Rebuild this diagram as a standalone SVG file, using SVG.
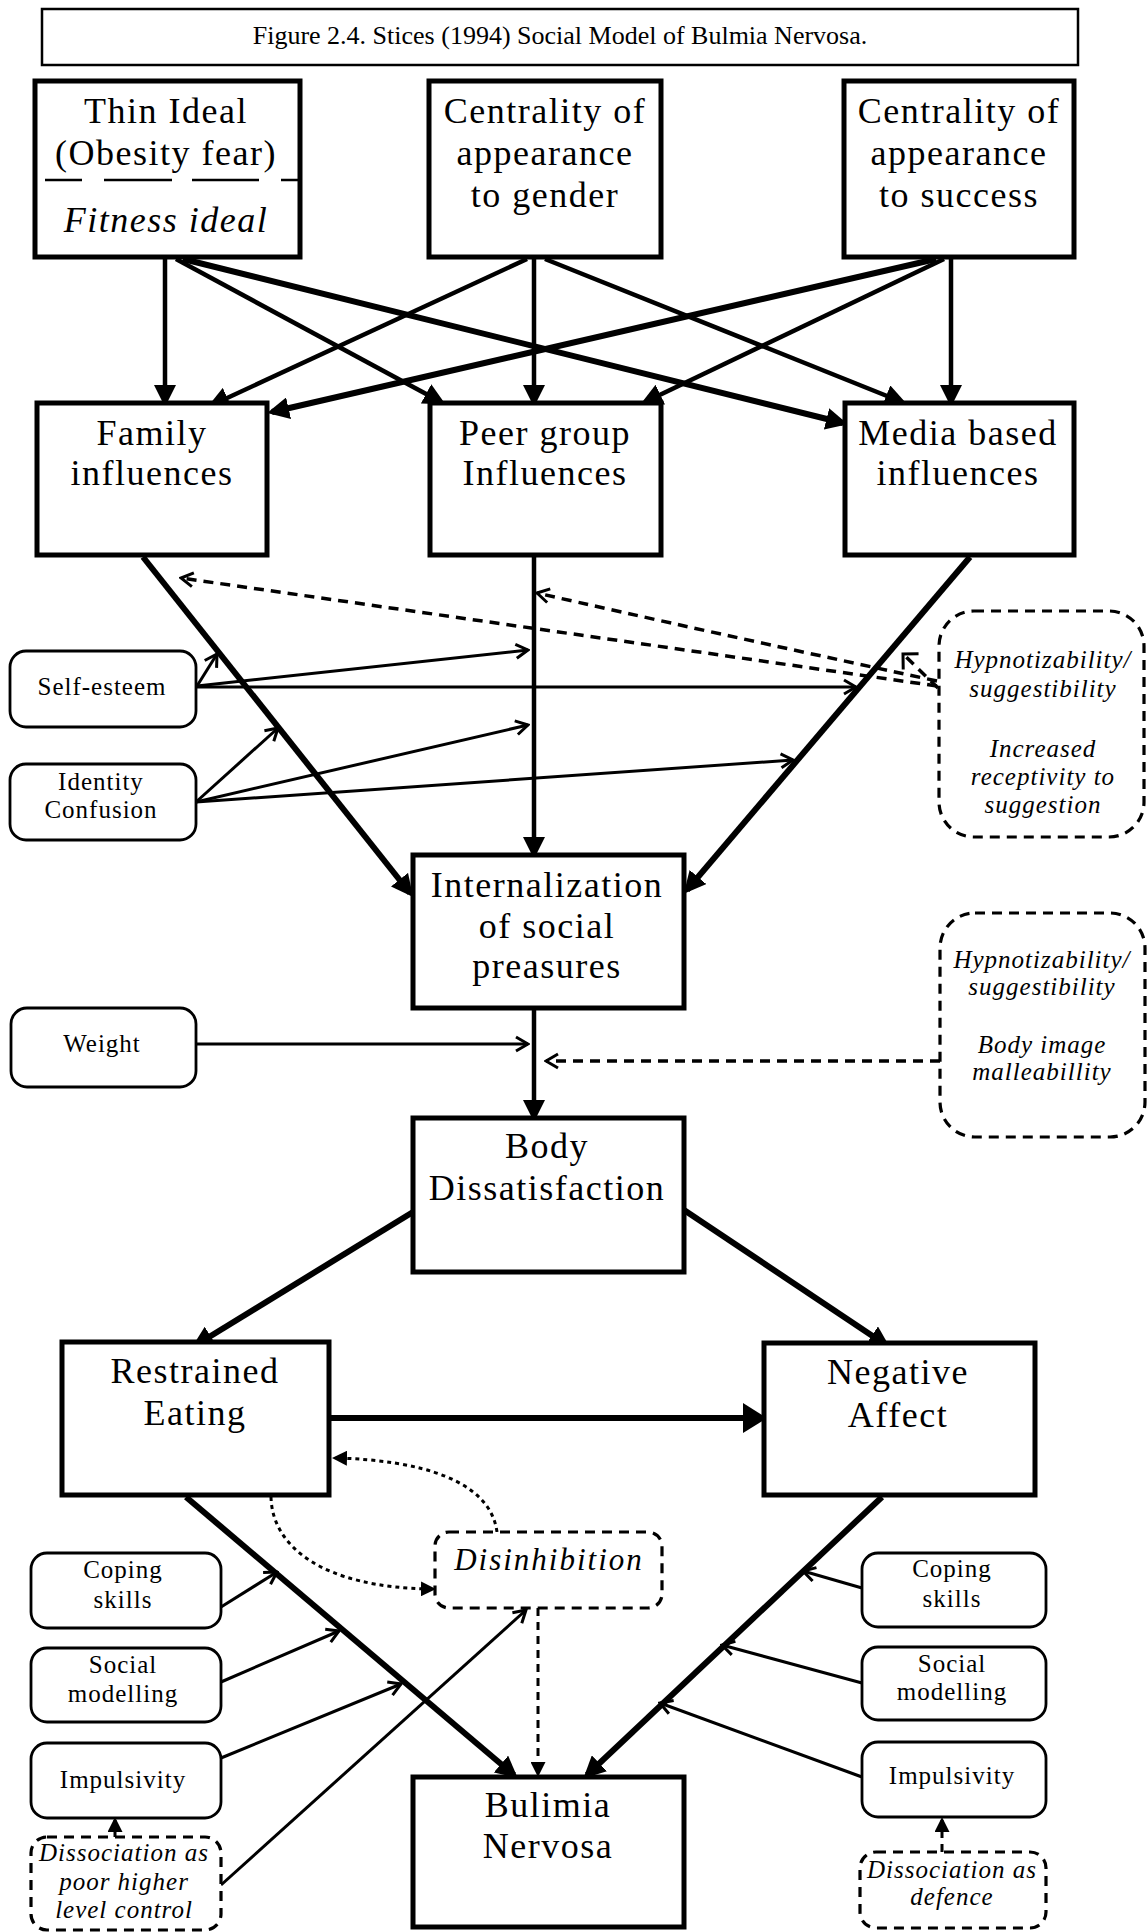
<svg xmlns="http://www.w3.org/2000/svg" width="1147" height="1932" viewBox="0 0 1147 1932">
<defs>
<style>
.bg{fill:#fff}
.box{fill:#fff;stroke:#000;stroke-width:5}
.tbox{fill:#fff;stroke:#000;stroke-width:2.5}
.sbox{fill:#fff;stroke:#000;stroke-width:2.8}
.dbox{fill:#fff;stroke:#000;stroke-width:3.2;stroke-dasharray:10 7}
.t{font-family:"Liberation Serif","Times New Roman",serif;fill:#000;text-anchor:middle}
.big{font-size:36px;letter-spacing:1.5px}
.sm{font-size:25px;letter-spacing:1px}
.it{font-style:italic}
.title{font-size:26px}
.c{fill:none;stroke:#000;stroke-width:4.5}
.c5{fill:none;stroke:#000;stroke-width:6}
.m{fill:none;stroke:#000;stroke-width:3}
.d{fill:none;stroke:#000;stroke-width:3.5;stroke-dasharray:10 7}
.dot{fill:none;stroke:#000;stroke-width:3;stroke-dasharray:4 4}
</style>
<marker id="arr" viewBox="0 0 22 22" refX="17" refY="11" markerWidth="22" markerHeight="22" markerUnits="userSpaceOnUse" orient="auto"><path d="M0,0 L22,11 L0,22 Z" fill="#000"/></marker>
<marker id="arrL" viewBox="0 0 24 30" refX="20" refY="15" markerWidth="24" markerHeight="30" markerUnits="userSpaceOnUse" orient="auto"><path d="M0,0 L24,15 L0,30 Z" fill="#000"/></marker>
<marker id="arrS" viewBox="0 0 15 15" refX="12" refY="7.5" markerWidth="15" markerHeight="15" markerUnits="userSpaceOnUse" orient="auto"><path d="M0,0 L15,7.5 L0,15 Z" fill="#000"/></marker>
<marker id="open" viewBox="-2 -2 16 18" refX="12" refY="7" markerWidth="16" markerHeight="18" markerUnits="userSpaceOnUse" orient="auto"><path d="M0,0 L12,7 L0,14" fill="none" stroke="#000" stroke-width="3"/></marker>
<marker id="corner" viewBox="-2 -2 16 26" refX="11" refY="11" markerWidth="16" markerHeight="26" markerUnits="userSpaceOnUse" orient="auto"><path d="M0,0 L11,11 L0,22" fill="none" stroke="#000" stroke-width="3"/></marker>
</defs>
<rect class="bg" x="0" y="0" width="1147" height="1932"/>

<g id="connectors">
<!-- top layer -->
<path class="c" d="M165,259 L165,402" marker-end="url(#arr)"/>
<path class="c" d="M176,259 L441,402" marker-end="url(#arr)"/>
<path class="c5" d="M183,259 L843,423" marker-end="url(#arr)"/>
<path class="c" d="M527,259 L212,405" marker-end="url(#arr)"/>
<path class="c" d="M534,259 L534,402" marker-end="url(#arr)"/>
<path class="c" d="M545,259 L902,402" marker-end="url(#arr)"/>
<path class="c5" d="M936,259 L272,412" marker-end="url(#arr)"/>
<path class="c" d="M944,259 L645,402" marker-end="url(#arr)"/>
<path class="c" d="M951,259 L951,402" marker-end="url(#arr)"/>
<!-- to internalization -->
<path class="c5" d="M143,557 L410,893" marker-end="url(#arr)"/>
<path class="c" d="M534,557 L534,854" marker-end="url(#arr)"/>
<path class="c5" d="M970,557 L687,890" marker-end="url(#arr)"/>
<path class="c" d="M534,1010 L534,1117" marker-end="url(#arr)"/>
<!-- moderators -->
<path class="m" d="M197,686 L217,654" marker-end="url(#open)"/>
<path class="m" d="M197,686 L528,650" marker-end="url(#open)"/>
<path class="m" d="M197,687 L856,687" marker-end="url(#open)"/>
<path class="m" d="M196,802 L278,728" marker-end="url(#open)"/>
<path class="m" d="M196,802 L528,725" marker-end="url(#open)"/>
<path class="m" d="M196,802 L793,760" marker-end="url(#open)"/>
<path class="m" d="M196,1044 L528,1044" marker-end="url(#open)"/>
<path class="d" d="M937,686 L181,578" marker-end="url(#open)"/>
<path class="d" d="M937,681 Q700,630 537,593" marker-end="url(#open)"/>
<path class="d" d="M938,688 L903,654" marker-end="url(#corner)"/>
<path class="d" d="M940,1061 L546,1061" marker-end="url(#open)"/>
<!-- lower -->
<path class="c5" d="M413,1212 L196,1345" marker-end="url(#arr)"/>
<path class="c5" d="M684,1210 L886,1345" marker-end="url(#arr)"/>
<path class="c5" d="M329,1418 L763,1418" marker-end="url(#arrL)"/>
<path class="c5" d="M186,1497 L514,1775" marker-end="url(#arr)"/>
<path class="c5" d="M882,1497 L587,1775" marker-end="url(#arr)"/>
<path class="dot" d="M497,1532 C490,1480 420,1460 335,1458" marker-end="url(#arrS)"/>
<path class="dot" d="M271,1497 C272,1545 320,1588 433,1589" marker-end="url(#arrS)"/>
<path class="m" style="stroke-dasharray:8 6" d="M538,1608 L538,1774" marker-end="url(#arrS)"/>
<path class="m" d="M221,1607 L277,1572" marker-end="url(#open)"/>
<path class="m" d="M221,1682 L339,1631" marker-end="url(#open)"/>
<path class="m" d="M221,1758 L401,1684" marker-end="url(#open)"/>
<path class="m" d="M221,1885 L526,1610" marker-end="url(#open)"/>
<path class="m" d="M115,1837 L115,1820" marker-end="url(#arrS)"/>
<path class="m" d="M862,1588 L803,1571" marker-end="url(#open)"/>
<path class="m" d="M862,1683 L722,1645" marker-end="url(#open)"/>
<path class="m" d="M862,1777 L660,1703" marker-end="url(#open)"/>
<path class="m" style="stroke-dasharray:8 6" d="M942,1852 L942,1820" marker-end="url(#arrS)"/>
</g>

<g id="title"><rect class="tbox" x="42" y="9" width="1036" height="56"/><text class="t title" x="560" y="44">Figure 2.4. Stices (1994) Social Model of  Bulmia Nervosa.</text></g>

<g id="thin-ideal"><rect class="box" x="35" y="81" width="265" height="176"/>
<text class="t big" x="166" y="123">Thin Ideal</text>
<text class="t big" x="166" y="165">(Obesity fear)</text>
<path d="M45,180 H82 M104,180 H172 M192,180 H259 M281,180 H298" stroke="#000" stroke-width="2.5" fill="none"/>
<text class="t big it" x="166" y="232">Fitness ideal</text></g>

<g id="centrality-gender"><rect class="box" x="429" y="81" width="232" height="176"/>
<text class="t big" x="545" y="123">Centrality of</text>
<text class="t big" x="545" y="165">appearance</text>
<text class="t big" x="545" y="207">to gender</text></g>

<g id="centrality-success"><rect class="box" x="844" y="81" width="230" height="176"/>
<text class="t big" x="959" y="123">Centrality of</text>
<text class="t big" x="959" y="165">appearance</text>
<text class="t big" x="959" y="207">to success</text></g>

<g id="family"><rect class="box" x="37" y="403" width="230" height="152"/>
<text class="t big" x="152" y="445">Family</text>
<text class="t big" x="152" y="485">influences</text></g>

<g id="peer"><rect class="box" x="430" y="403" width="231" height="152"/>
<text class="t big" x="545" y="445">Peer group</text>
<text class="t big" x="545" y="485">Influences</text></g>

<g id="media"><rect class="box" x="845" y="403" width="229" height="152"/>
<text class="t big" x="958" y="445">Media based</text>
<text class="t big" x="958" y="485">influences</text></g>

<g id="self-esteem"><rect class="sbox" x="10" y="651" width="186" height="76" rx="16"/>
<text class="t sm" x="102" y="695">Self-esteem</text></g>

<g id="identity"><rect class="sbox" x="10" y="764" width="186" height="76" rx="16"/>
<text class="t sm" x="101" y="790">Identity</text>
<text class="t sm" x="101" y="818">Confusion</text></g>

<g id="hypno1"><rect class="dbox" x="939" y="611" width="205" height="226" rx="35"/>
<text class="t sm it" x="1043" y="668">Hypnotizability/</text>
<text class="t sm it" x="1043" y="697">suggestibility</text>
<text class="t sm it" x="1043" y="757">Increased</text>
<text class="t sm it" x="1043" y="785">receptivity to</text>
<text class="t sm it" x="1043" y="813">suggestion</text></g>

<g id="internalization"><rect class="box" x="413" y="855" width="271" height="153"/>
<text class="t big" x="547" y="897">Internalization</text>
<text class="t big" x="547" y="938">of social</text>
<text class="t big" x="547" y="978">preasures</text></g>

<g id="weight"><rect class="sbox" x="11" y="1008" width="185" height="79" rx="16"/>
<text class="t sm" x="102" y="1052">Weight</text></g>

<g id="hypno2"><rect class="dbox" x="940" y="913" width="205" height="224" rx="35"/>
<text class="t sm it" x="1042" y="968">Hypnotizability/</text>
<text class="t sm it" x="1042" y="995">suggestibility</text>
<text class="t sm it" x="1042" y="1053">Body image</text>
<text class="t sm it" x="1042" y="1080">malleabillity</text></g>

<g id="body"><rect class="box" x="413" y="1118" width="271" height="154"/>
<text class="t big" x="547" y="1158">Body</text>
<text class="t big" x="547" y="1200">Dissatisfaction</text></g>

<g id="restrained"><rect class="box" x="62" y="1342" width="267" height="153"/>
<text class="t big" x="195" y="1383">Restrained</text>
<text class="t big" x="195" y="1425">Eating</text></g>

<g id="negative"><rect class="box" x="764" y="1343" width="271" height="152"/>
<text class="t big" x="898" y="1384">Negative</text>
<text class="t big" x="898" y="1427">Affect</text></g>

<g id="disinhibition"><rect class="dbox" x="435" y="1532" width="227" height="76" rx="14"/>
<text class="t it" style="font-size:31px;letter-spacing:2px" x="549" y="1570">Disinhibition</text></g>

<g id="bulimia"><rect class="box" x="413" y="1777" width="271" height="150"/>
<text class="t big" x="548" y="1817">Bulimia</text>
<text class="t big" x="548" y="1858">Nervosa</text></g>

<g id="coping-l"><rect class="sbox" x="31" y="1553" width="190" height="75" rx="16"/>
<text class="t sm" x="123" y="1578">Coping</text>
<text class="t sm" x="123" y="1608">skills</text></g>
<g id="social-l"><rect class="sbox" x="31" y="1648" width="190" height="74" rx="16"/>
<text class="t sm" x="123" y="1673">Social</text>
<text class="t sm" x="123" y="1702">modelling</text></g>
<g id="impulsivity-l"><rect class="sbox" x="31" y="1743" width="190" height="75" rx="16"/>
<text class="t sm" x="123" y="1788">Impulsivity</text></g>
<g id="dissoc-l"><rect class="dbox" x="31" y="1837" width="190" height="93" rx="16"/>
<text class="t sm it" x="124" y="1861">Dissociation as</text>
<text class="t sm it" x="124" y="1890">poor higher</text>
<text class="t sm it" x="124" y="1918">level control</text></g>

<g id="coping-r"><rect class="sbox" x="862" y="1553" width="184" height="74" rx="16"/>
<text class="t sm" x="952" y="1577">Coping</text>
<text class="t sm" x="952" y="1607">skills</text></g>
<g id="social-r"><rect class="sbox" x="862" y="1647" width="184" height="73" rx="16"/>
<text class="t sm" x="952" y="1672">Social</text>
<text class="t sm" x="952" y="1700">modelling</text></g>
<g id="impulsivity-r"><rect class="sbox" x="862" y="1742" width="184" height="75" rx="16"/>
<text class="t sm" x="952" y="1784">Impulsivity</text></g>
<g id="dissoc-r"><rect class="dbox" x="860" y="1852" width="186" height="76" rx="16"/>
<text class="t sm it" x="952" y="1878">Dissociation as</text>
<text class="t sm it" x="952" y="1905">defence</text></g>
</svg>
